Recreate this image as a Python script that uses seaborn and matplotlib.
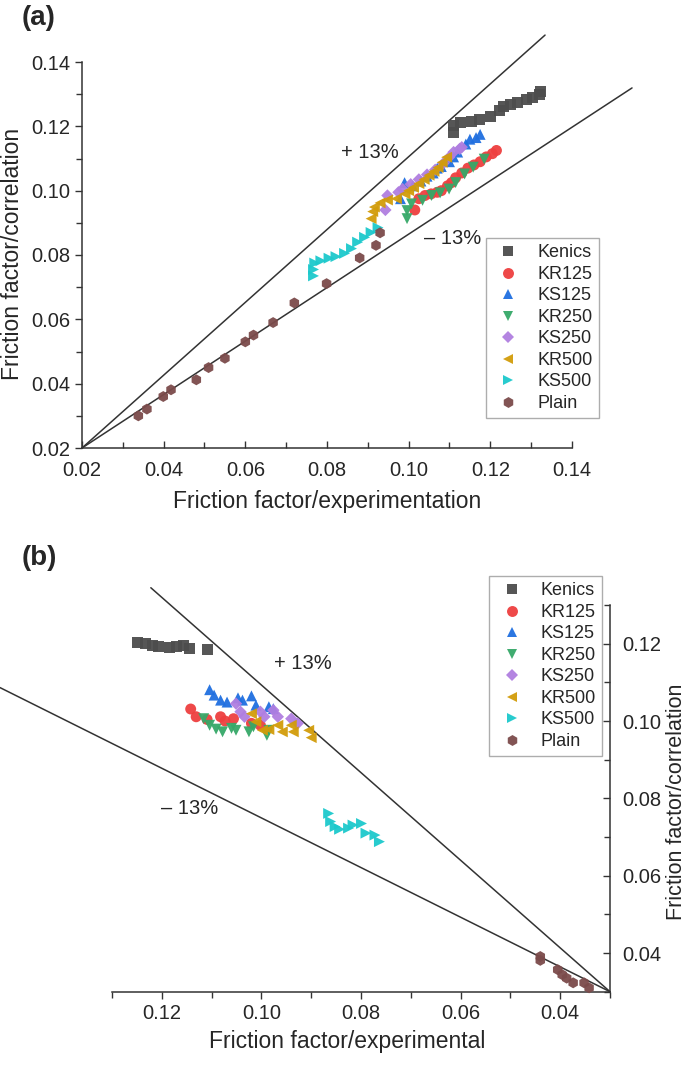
import numpy as np
import pandas as pd
import seaborn as sns
import matplotlib.pyplot as plt
from matplotlib.markers import MarkerStyle
from matplotlib.transforms import Affine2D
from matplotlib.ticker import MultipleLocator, FormatStrFormatter

sns.set_style("ticks")
plt.rcParams["font.family"] = ["Liberation Sans", "DejaVu Sans"]

SERIES = ["Kenics", "KR125", "KS125", "KR250", "KS250", "KR500", "KS500", "Plain"]
COLORS = ["#4d4d4d", "#ee3f3f", "#1f6fe0", "#36a868", "#b07ee0", "#d29c0a", "#1cc9cc", "#7b4b4b"]
MARKERS = ["s", "o", "^", "v", "D", "<", ">", "h"]

# ---- panel (a) : correlation vs experimentation
a_kenics_x = [0.1110, 0.1110, 0.1126, 0.1153, 0.1174, 0.1201, 0.1223, 0.1233, 0.1249, 0.1266, 0.1288, 0.1303, 0.1320, 0.1323]
a_kenics_y = [0.1181, 0.1202, 0.1212, 0.1215, 0.1222, 0.1230, 0.1248, 0.1261, 0.1269, 0.1274, 0.1284, 0.1290, 0.1300, 0.1308]
a_kr125_x = [0.1015, 0.1025, 0.1040, 0.1055, 0.1070, 0.1080, 0.1095, 0.1105, 0.1115, 0.1130, 0.1145, 0.1160, 0.1175, 0.1190, 0.1205, 0.1215]
a_kr125_y = [0.0940, 0.0975, 0.0985, 0.0990, 0.0995, 0.1000, 0.1015, 0.1025, 0.1040, 0.1055, 0.1070, 0.1080, 0.1090, 0.1105, 0.1115, 0.1125]
a_ks125_x = [0.0980, 0.0990, 0.1010, 0.1030, 0.1045, 0.1060, 0.1070, 0.1080, 0.1100, 0.1110, 0.1120, 0.1140, 0.1150, 0.1165, 0.1175]
a_ks125_y = [0.0975, 0.1025, 0.1015, 0.1030, 0.1045, 0.1055, 0.1070, 0.1075, 0.1090, 0.1105, 0.1120, 0.1145, 0.1160, 0.1165, 0.1175]
a_kr250_x = [0.0996, 0.0996, 0.1007, 0.1034, 0.1056, 0.1077, 0.1099, 0.1115, 0.1137, 0.1158, 0.1185]
a_kr250_y = [0.0913, 0.0938, 0.0959, 0.0970, 0.0985, 0.0993, 0.1005, 0.1025, 0.1052, 0.1073, 0.1098]
a_ks250_x = [0.0943, 0.0948, 0.0975, 0.0985, 0.1005, 0.1025, 0.1045, 0.1065, 0.1085, 0.1100, 0.1110, 0.1125, 0.1130]
a_ks250_y = [0.0940, 0.0985, 0.0995, 0.1005, 0.1020, 0.1035, 0.1050, 0.1065, 0.1085, 0.1105, 0.1120, 0.1130, 0.1135]
a_kr500_x = [0.0908, 0.0912, 0.0916, 0.0930, 0.0948, 0.0970, 0.0991, 0.1000, 0.1012, 0.1025, 0.1038, 0.1050, 0.1062, 0.1072, 0.1082, 0.1093]
a_kr500_y = [0.0913, 0.0935, 0.0949, 0.0962, 0.0971, 0.0975, 0.0990, 0.1000, 0.1010, 0.1022, 0.1035, 0.1048, 0.1060, 0.1072, 0.1088, 0.1104]
a_ks500_x = [0.0767, 0.0767, 0.0770, 0.0785, 0.0805, 0.0822, 0.0843, 0.0860, 0.0875, 0.0892, 0.0908, 0.0925]
a_ks500_y = [0.0735, 0.0755, 0.0775, 0.0782, 0.0790, 0.0795, 0.0805, 0.0820, 0.0840, 0.0855, 0.0870, 0.0885]
a_plain_x = [0.0338, 0.0359, 0.0399, 0.0418, 0.0480, 0.0510, 0.0550, 0.0600, 0.0620, 0.0668, 0.0720, 0.0799, 0.0880, 0.0920, 0.0930]
a_plain_y = [0.0300, 0.0321, 0.0360, 0.0381, 0.0412, 0.0450, 0.0479, 0.0530, 0.0551, 0.0590, 0.0651, 0.0711, 0.0791, 0.0830, 0.0869]

# ---- panel (b) : reversed axes
b_kenics_x = [0.1248, 0.1233, 0.1219, 0.1206, 0.1184, 0.1171, 0.1157, 0.1144, 0.1109]
b_kenics_y = [0.1204, 0.1200, 0.1196, 0.1193, 0.1191, 0.1193, 0.1196, 0.1187, 0.1185]
b_kr125_x = [0.1142, 0.1131, 0.1109, 0.1082, 0.1073, 0.1056, 0.1020, 0.1002]
b_kr125_y = [0.1031, 0.1011, 0.1004, 0.1011, 0.1000, 0.1006, 0.0994, 0.0989]
b_ks125_x = [0.1104, 0.1095, 0.1082, 0.1069, 0.1047, 0.1038, 0.1020, 0.1011, 0.0985, 0.0976]
b_ks125_y = [0.1081, 0.1067, 0.1054, 0.1049, 0.1060, 0.1054, 0.1065, 0.1041, 0.1037, 0.1032]
b_kr250_x = [0.1116, 0.1104, 0.1091, 0.1078, 0.1060, 0.1051, 0.1025, 0.1016, 0.0989, 0.0985]
b_kr250_y = [0.1006, 0.0989, 0.0979, 0.0972, 0.0981, 0.0976, 0.0972, 0.0985, 0.0963, 0.0976]
b_ks250_x = [0.1051, 0.1042, 0.1034, 0.1002, 0.0994, 0.0976, 0.0967, 0.0940, 0.0927]
b_ks250_y = [0.1045, 0.1024, 0.1011, 0.1024, 0.1011, 0.1028, 0.1011, 0.1006, 0.0994]
b_kr500_x = [0.1020, 0.1011, 0.0998, 0.0985, 0.0967, 0.0958, 0.0940, 0.0936, 0.0905, 0.0900]
b_kr500_y = [0.1019, 0.0998, 0.0976, 0.0978, 0.0989, 0.0972, 0.0989, 0.0972, 0.0976, 0.0957]
b_ks500_x = [0.0865, 0.0861, 0.0852, 0.0843, 0.0825, 0.0816, 0.0799, 0.0790, 0.0772, 0.0763]
b_ks500_y = [0.0761, 0.0740, 0.0727, 0.0720, 0.0723, 0.0731, 0.0735, 0.0710, 0.0705, 0.0688]
b_plain_x = [0.0440, 0.0440, 0.0405, 0.0396, 0.0387, 0.0374, 0.0352, 0.0342]
b_plain_y = [0.0391, 0.0381, 0.0357, 0.0344, 0.0335, 0.0323, 0.0323, 0.0310]

# deviation lines: start point, slopes, and x where they stop
a_origin, a_slopes, a_line_end = 0.02, [1.132, 0.831], [0.1334, 0.1547]
b_origin, b_slopes, b_line_end = 0.03, [1.133, 0.642], [0.1222, 0.1525]


def make_df(xs, ys):
    rows = []
    for name, x, y in zip(SERIES, xs, ys):
        rows += [(name, a, b) for a, b in zip(x, y)]
    return pd.DataFrame(rows, columns=["series", "x", "y"])


df_a = make_df([a_kenics_x, a_kr125_x, a_ks125_x, a_kr250_x, a_ks250_x, a_kr500_x, a_ks500_x, a_plain_x],
               [a_kenics_y, a_kr125_y, a_ks125_y, a_kr250_y, a_ks250_y, a_kr500_y, a_ks500_y, a_plain_y])
df_b = make_df([b_kenics_x, b_kr125_x, b_ks125_x, b_kr250_x, b_ks250_x, b_kr500_x, b_ks500_x, b_plain_x],
               [b_kenics_y, b_kr125_y, b_ks125_y, b_kr250_y, b_ks250_y, b_kr500_y, b_ks500_y, b_plain_y])

pal = dict(zip(SERIES, COLORS))
# the diamond is drawn a bit smaller so it matches the other glyphs
mk = {name: (MarkerStyle(m, transform=Affine2D().scale(0.8)) if m == "D" else m)
      for name, m in zip(SERIES, MARKERS)}

fig = plt.figure(figsize=(6.85, 10.65), dpi=100)
ax1 = fig.add_axes([82 / 685, 1 - 448 / 1065, 490 / 685, 386 / 1065])
ax2 = fig.add_axes([112 / 685, 1 - 991.7 / 1065, 498 / 685, 386.7 / 1065])

for ax, df, org, slopes, ends in [(ax1, df_a, a_origin, a_slopes, a_line_end),
                                  (ax2, df_b, b_origin, b_slopes, b_line_end)]:
    for s, xe in zip(slopes, ends):
        ax.plot([org, xe], [org, org + s * (xe - org)], color="#333333", lw=1.1,
                clip_on=False, zorder=1)
    sns.scatterplot(data=df, x="x", y="y", hue="series", style="series",
                    palette=pal, markers=mk, s=62, linewidth=0, alpha=0.95,
                    ax=ax, zorder=3, clip_on=False)
    ax.xaxis.set_major_locator(MultipleLocator(0.02))
    ax.xaxis.set_minor_locator(MultipleLocator(0.01))
    ax.yaxis.set_major_locator(MultipleLocator(0.02))
    ax.yaxis.set_minor_locator(MultipleLocator(0.01))
    ax.xaxis.set_major_formatter(FormatStrFormatter("%.2f"))
    ax.yaxis.set_major_formatter(FormatStrFormatter("%.2f"))
    ax.tick_params(labelsize=14.5, width=1, length=5, color="#333333")
    ax.tick_params(which="minor", width=1, length=4, color="#333333")
    for sp in ax.spines.values():
        sp.set_color("#333333")
        sp.set_linewidth(1.1)

leg_kw = dict(loc="upper left", borderaxespad=0, fontsize=13, frameon=True,
              fancybox=False, edgecolor="#999999", labelspacing=0.25,
              handlelength=1.8, handletextpad=0.7, borderpad=0.35)

# panel a
ax1.set_xlim(0.02, 0.14)
ax1.set_ylim(0.02, 0.14)
sns.despine(ax=ax1)
ax1.tick_params(axis="x", which="both", direction="in", pad=9)
ax1.tick_params(axis="y", which="both", direction="out")
ax1.set_xlabel("Friction factor/experimentation", fontsize=16.5)
ax1.set_ylabel("Friction factor/correlation", fontsize=16.5)
ax1.xaxis.set_label_coords(0.5, -0.11)
ax1.yaxis.set_label_coords(-0.118, 0.503)
ax1.text(0.0905, 0.112, "+ 13%", fontsize=14.5, ha="center", va="center")
ax1.text(0.1108, 0.0852, "\u2013 13%", fontsize=14.5, ha="center", va="center")
h, l = ax1.get_legend_handles_labels()
ax1.legend(h, l, bbox_to_anchor=(0.824, 0.544), **leg_kw)

# panel b (reversed, y on the right)
ax2.set_xlim(0.13, 0.03)
ax2.set_ylim(0.03, 0.13)
sns.despine(ax=ax2, left=True, right=False)
ax2.yaxis.tick_right()
ax2.yaxis.set_label_position("right")
ax2.tick_params(axis="x", which="both", direction="out")
ax2.tick_params(axis="y", which="both", direction="in", pad=9)
ax2.set_xlabel("Friction factor/experimental", fontsize=16.5)
ax2.set_ylabel("Friction factor/correlation", fontsize=15.5)
ax2.xaxis.set_label_coords(0.473, -0.099)
ax2.yaxis.set_label_coords(1.112, 0.49)
ax2.text(0.0917, 0.1148, "+ 13%", fontsize=14.5, ha="center", va="center")
ax2.text(0.1144, 0.0774, "\u2013 13%", fontsize=14.5, ha="center", va="center")
h, l = ax2.get_legend_handles_labels()
ax2.legend(h, l, bbox_to_anchor=(0.757, 1.075), **leg_kw)

fig.text(22 / 685, 1 - 18 / 1065, "(a)", fontsize=20, weight="bold", va="center")
fig.text(22 / 685, 1 - 558 / 1065, "(b)", fontsize=20, weight="bold", va="center")

fig.savefig("out.png", dpi=100)
